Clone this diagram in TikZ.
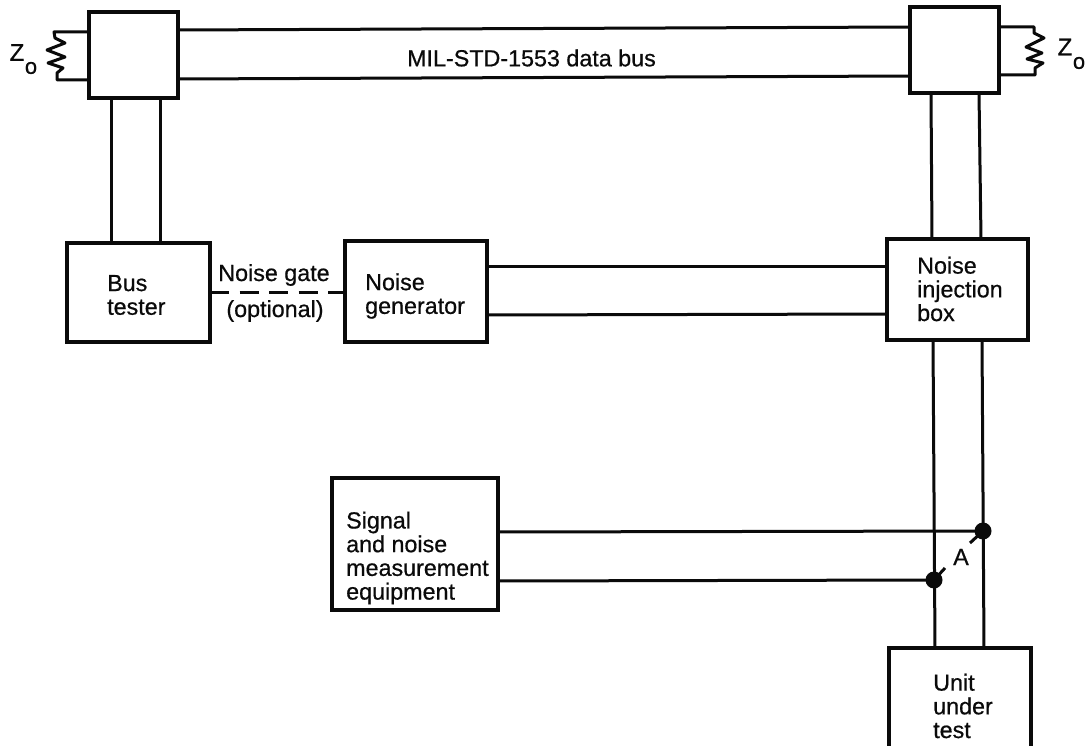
\documentclass[tikz,border=0pt]{standalone}
\usepackage{fontspec}
\setmainfont[RawFeature={embolden=0.6}]{Liberation Sans}
\definecolor{ink}{HTML}{0A0A0A}
\tikzset{
  x=1pt,y=-1pt,
  block/.style={draw=ink,line width=3.4pt,inner sep=0pt,fill=white},
  wire/.style={draw=ink,line width=3pt},
  lab/.style={font=\fontsize{23.3}{23.7}\selectfont,text=ink,inner sep=0pt,align=left,anchor=west},
  clab/.style={font=\fontsize{23.3}{23.7}\selectfont,text=ink,inner sep=0pt,align=center},
  dotm/.style={circle,fill=ink,inner sep=0pt,minimum size=17pt},
}
\begin{document}
\begin{tikzpicture}
\useasboundingbox[fill=white] (0,0) rectangle (1087,746);
\clip (0,0) rectangle (1087,746);
% boxes
\node[block,minimum width=89pt,minimum height=86pt] (cl) at (133.5,55) {};
\node[block,minimum width=89pt,minimum height=86pt] (cr) at (954.5,50) {};
\node[block,minimum width=143pt,minimum height=99pt] (bt) at (138.5,292.5) {};
\node[block,minimum width=142pt,minimum height=101pt] (ng) at (416,291.5) {};
\node[block,minimum width=141pt,minimum height=101pt] (ni) at (957.5,289.5) {};
\node[block,minimum width=166pt,minimum height=132pt] (sm) at (415,544) {};
\node[block,minimum width=142pt,minimum height=110pt] (ut) at (960,703) {};
% attachment points
\coordinate (b1a) at (178,30); \coordinate (b1b) at (910,27);
\coordinate (b2a) at (178,79); \coordinate (b2b) at (910,76);
\coordinate (l1a) at (111,98); \coordinate (l1b) at (111,243);
\coordinate (l2a) at (160,98); \coordinate (l2b) at (160,243);
\coordinate (r1a) at (931,93); \coordinate (r1b) at (932,239);
\coordinate (r2a) at (979,93); \coordinate (r2b) at (981,239);
\coordinate (n1a) at (487,266); \coordinate (n1b) at (887,266);
\coordinate (n2a) at (487,315); \coordinate (n2b) at (887,314);
\coordinate (u1a) at (933,340); \coordinate (u1b) at (935,648);
\coordinate (u2a) at (982,340); \coordinate (u2b) at (984,648);
\coordinate (s1a) at (498,532); \coordinate (s2a) at (498,581);
\coordinate (ga) at (210,292); \coordinate (gb) at (345,292);
% dots
\node[dotm] (d1) at (983,531) {};
\node[dotm] (d2) at (934,580) {};
\coordinate (t1) at (970,543); \coordinate (t2) at (945,568);
% wires
\draw[wire] (b1a) -- (b1b);
\draw[wire] (b2a) -- (b2b);
\draw[wire] (l1a) -- (l1b);
\draw[wire] (l2a) -- (l2b);
\draw[wire] (r1a) -- (r1b);
\draw[wire] (r2a) -- (r2b);
\draw[wire] (n1a) -- (n1b);
\draw[wire] (n2a) -- (n2b);
\draw[wire] (u1a) -- (u1b);
\draw[wire] (u2a) -- (u2b);
\draw[wire] (s1a) -- (d1.center);
\draw[wire] (s2a) -- (d2.center);
\draw[wire] (d1.center) -- (t1);
\draw[wire] (d2.center) -- (t2);
\draw[wire,dash pattern=on 19pt off 10.5pt] (ga) -- (gb);
% terminations
\coordinate (zl1) at (88,32); \coordinate (zl2) at (88,80);
\coordinate (zr1) at (999,27); \coordinate (zr2) at (999,75);
\draw[wire,line join=round] (zl1) -- (54,32) -- (55,38) -- (65,43) -- (47,50) -- (65,57) -- (48,63) -- (63,68) -- (57,73) -- (57,80) -- (zl2);
\draw[wire,line join=round] (zr1) -- (1034,27) -- (1034,33) -- (1044,38) -- (1026,47) -- (1042,53) -- (1027,59) -- (1043,63) -- (1035,68) -- (1035,75) -- (zr2);
% text
\node[clab] (tbus) at (531.5,58) {MIL-STD-1553 data bus};
\node[lab] (tbt) at (107,295) {Bus\\tester};
\node[clab] (tg1) at (274,275) {Noise gate};
\node[clab] (tg2) at (275,311) {(optional)};
\node[lab] (tng) at (365,296) {Noise\\generator};
\node[lab] (tni) at (917,289) {Noise\\injection\\box};
\node[lab] (tsm) at (346,558) {Signal\\and noise\\measurement\\equipment};
\node[lab] (tut) at (933,706) {Unit\\under\\test};
\node[clab] (ta) at (961,557) {A};
\node[clab,font=\fontsize{24}{28}\selectfont] (zl) at (17,52.5) {Z};
\node[clab,font=\fontsize{22}{26}\selectfont] (zls) at (31,68) {o};
\node[clab,font=\fontsize{24}{28}\selectfont] (zr) at (1065,47) {Z};
\node[clab,font=\fontsize{22}{26}\selectfont] (zrs) at (1079,63) {o};
\end{tikzpicture}
\end{document}
